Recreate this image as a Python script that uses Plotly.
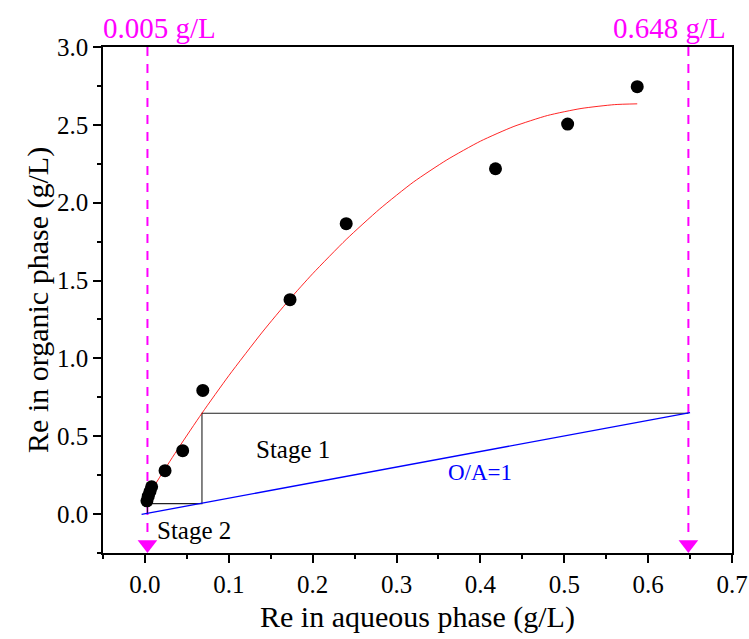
import plotly.graph_objects as go

# Experimental points
exp_x = [0.0024, 0.004, 0.006, 0.008, 0.024, 0.045, 0.069, 0.173, 0.240, 0.418, 0.504, 0.587]
exp_y = [0.085, 0.115, 0.145, 0.175, 0.279, 0.407, 0.794, 1.377, 1.865, 2.218, 2.505, 2.745]

# Fitted equilibrium curve
fit_x = [0.003, 0.02, 0.04, 0.068, 0.10, 0.14, 0.172, 0.20, 0.24, 0.28, 0.32, 0.36,
         0.40, 0.44, 0.48, 0.52, 0.56, 0.587]
fit_y = [0.11, 0.257, 0.424, 0.648, 0.889, 1.169, 1.376, 1.544, 1.764, 1.960, 2.132, 2.275,
         2.395, 2.49, 2.56, 2.605, 2.63, 2.635]

# Operating line O/A=1
op_x = [-0.004, 0.650]
op_y = [-0.002, 0.652]

# McCabe-Thiele stage construction
stage_x = [0.648, 0.068, 0.068, 0.003, 0.003]
stage_y = [0.648, 0.648, 0.067, 0.067, 0.0]

# Feed / raffinate concentrations
mark_x = [0.003, 0.648]
mark_labels = ["0.005 g/L", "0.648 g/L"]
y_top = 3.0
y_arrow = -0.195

serif = "Liberation Serif"
magenta = "#FF00FF"

fig = go.Figure()

for mx in mark_x:
    fig.add_trace(go.Scatter(x=[mx, mx], y=[y_top, y_arrow + 0.03], mode="lines",
                             line=dict(color=magenta, width=2, dash="9px,8px"),
                             showlegend=False, hoverinfo="skip"))
fig.add_trace(go.Scatter(x=mark_x, y=[y_arrow, y_arrow], mode="markers",
                         marker=dict(symbol="triangle-down", size=17, color=magenta),
                         showlegend=False, hoverinfo="skip"))

fig.add_trace(go.Scatter(x=stage_x, y=stage_y, mode="lines",
                         line=dict(color="#222222", width=1.1), showlegend=False))
fig.add_trace(go.Scatter(x=op_x, y=op_y, mode="lines",
                         line=dict(color="#0000FF", width=1.3), showlegend=False))
fig.add_trace(go.Scatter(x=fit_x, y=fit_y, mode="lines",
                         line=dict(color="rgba(255,0,0,0.85)", width=1, shape="spline", smoothing=0.6),
                         showlegend=False))
fig.add_trace(go.Scatter(x=exp_x, y=exp_y, mode="markers",
                         marker=dict(size=13, color="black"), showlegend=False))

def note(x, y, text, size, color, xref="x", yref="y", angle=0):
    fig.add_annotation(x=x, y=y, xref=xref, yref=yref, text=text, showarrow=False,
                       xanchor="center", yanchor="middle", textangle=angle,
                       font=dict(family=serif, size=size, color=color))

note(0.176, 0.414, "Stage 1", 25, "black")
note(0.058, -0.107, "Stage 2", 25, "black")
note(0.40, 0.27, "O/A=1", 23, "#0000FF")
note(0.017, 1.0375, mark_labels[0], 29, magenta, yref="paper")
note(0.626, 1.0375, mark_labels[1], 29, magenta, yref="paper")
note(0.5, -0.126, "Re in aqueous phase (g/L)", 30, "black", xref="paper", yref="paper")
note(-0.1035, 0.5, "Re in organic phase (g/L)", 30, "black", xref="paper", yref="paper", angle=-90)

axis_common = dict(showgrid=False, zeroline=False, showline=True, linecolor="black",
                   linewidth=1.5, mirror=True, ticks="outside", ticklen=8, tickwidth=1.5,
                   tickcolor="black", automargin=False,
                   tickfont=dict(family=serif, size=25, color="black"))

fig.update_xaxes(range=[-0.05, 0.7], tickvals=[0, 0.1, 0.2, 0.3, 0.4, 0.5, 0.6, 0.7],
                 ticktext=["0.0", "0.1", "0.2", "0.3", "0.4", "0.5", "0.6", "0.7"],
                 minor=dict(dtick=0.05, tick0=0, ticks="outside", ticklen=4, tickwidth=1.5, tickcolor="black"),
                 **axis_common)
fig.update_yaxes(range=[-0.25, 3.0], tickvals=[0, 0.5, 1.0, 1.5, 2.0, 2.5, 3.0],
                 ticktext=["0.0", "0.5", "1.0", "1.5", "2.0", "2.5", "3.0"],
                 minor=dict(dtick=0.25, tick0=0, ticks="outside", ticklen=4, tickwidth=1.5, tickcolor="black"),
                 **axis_common)

fig.update_layout(width=749, height=639, margin=dict(l=103, r=17, t=47, b=86),
                  plot_bgcolor="white", paper_bgcolor="white")

# remove the page's default body margin so the figure fills the window exactly
fig.write_html("out.html", config={"displayModeBar": False},
               post_script="document.body.style.margin='0';document.body.style.overflow='hidden';")
